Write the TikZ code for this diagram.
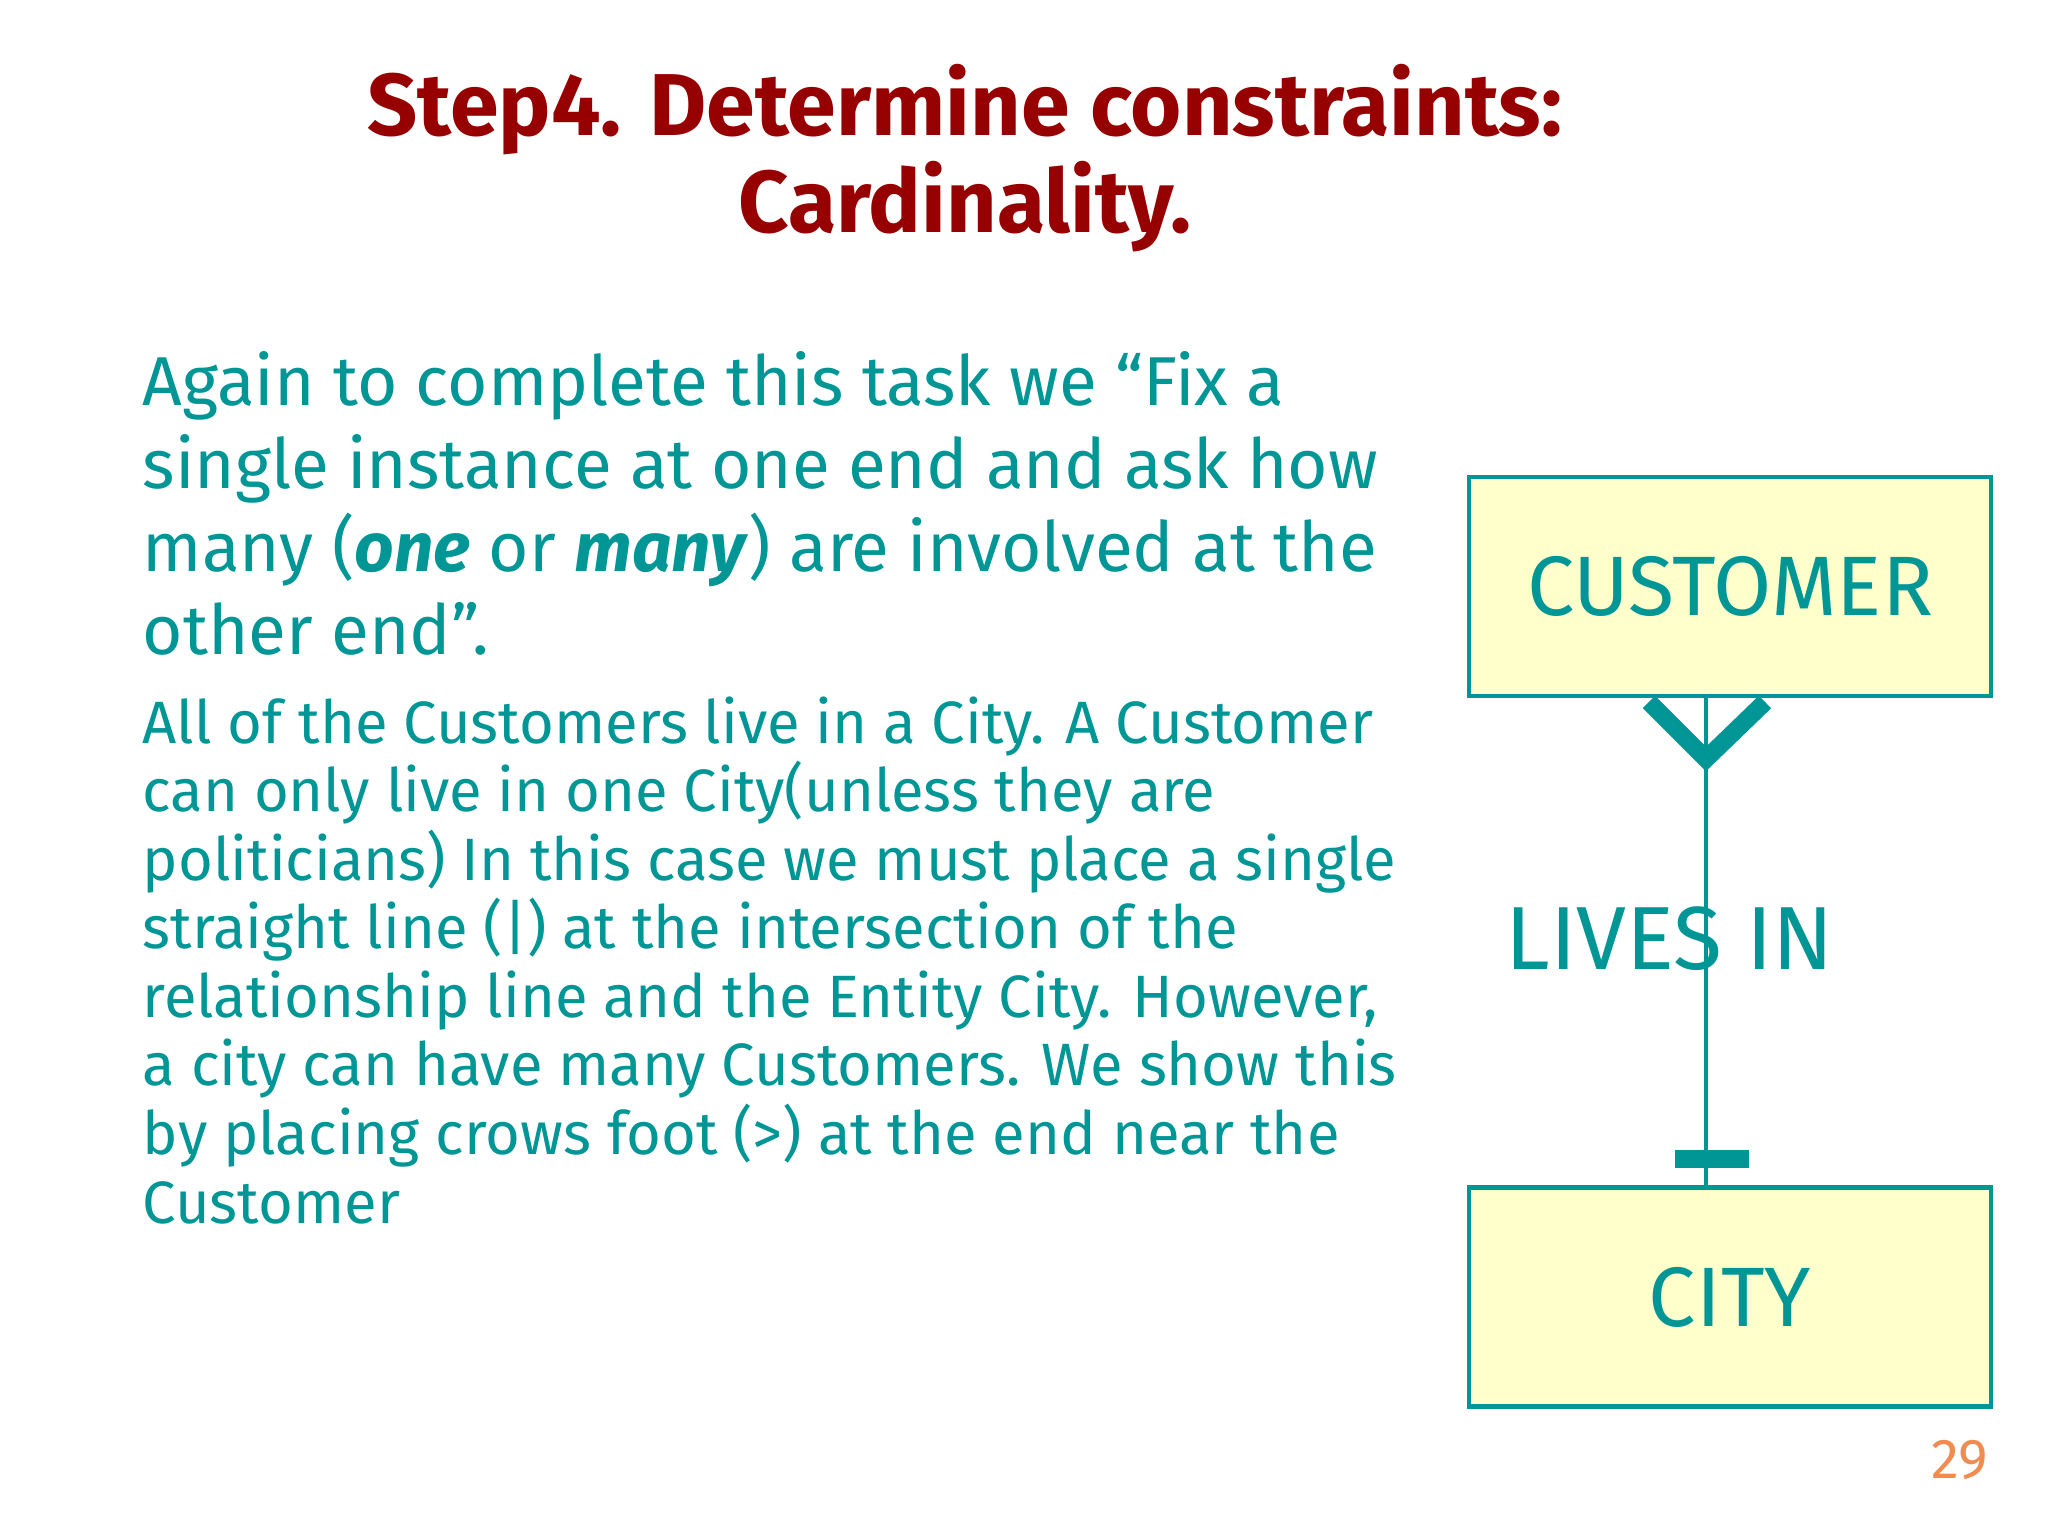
\documentclass[tikz,border=0pt]{standalone}
\usepackage{fontspec}
\setmainfont{Fira Sans}
\definecolor{teal1}{RGB}{0,150,150}
\definecolor{dred}{RGB}{150,0,0}
\definecolor{lyel}{RGB}{255,255,204}
\definecolor{pgorange}{RGB}{240,140,80}
\begin{document}
\begin{tikzpicture}[x=1cm,y=1cm,
  ent/.style={draw=teal1,line width=1.2pt,fill=lyel,minimum width=5.22cm,minimum height=2.19cm,text=teal1,font=\fontsize{24}{28}\selectfont},
  body/.style={text=teal1,anchor=north west,align=left,inner sep=0pt}]
\useasboundingbox[fill=white] (0,0) rectangle (20.48,15.36);
\node[text=dred,font=\bfseries\fontsize{25}{27.6}\selectfont,align=center] (title) at (9.65,13.78) {Step4. Determine constraints:\\Cardinality.};
\node[body,font=\fontsize{19.7}{23.6}\selectfont] (p1) at (1.42,11.85) {Again to complete this task we “Fix a\\single instance at one end and ask how\\many (\textbf{\textit{one}} or \textbf{\textit{many}}) are involved at the\\other end”.};
\node[body,font=\fontsize{17}{19.5}\selectfont] (p2) at (1.42,8.40) {All of the Customers live in a City. A Customer\\can only live in one City(unless they are\\politicians) In this case we must place a single\\straight line (|) at the intersection of the\\relationship line and the Entity City. However,\\a city can have many Customers. We show this\\by placing crows foot (>) at the end near the\\Customer};
\node[ent] (cust) at (17.30,9.495) {CUSTOMER};
\node[ent] (city) at (17.30,2.39) {CITY};
\draw[teal1,line width=1.2pt] (cust.south -| 17.06,0) -- (city.north -| 17.06,0);
\coordinate (cfl) at (16.49,8.34);
\coordinate (cfm) at (17.06,7.77);
\coordinate (cfr) at (17.65,8.34);
\draw[teal1,line width=5pt] (cfl) -- (cfm) -- (cfr);
\coordinate (bl) at (16.75,3.77);
\coordinate (br) at (17.49,3.77);
\draw[teal1,line width=5pt] (bl) -- (br);
\node[text=teal1,font=\fontsize{25.5}{30}\selectfont] (lives) at (16.70,5.97) {LIVES IN};
\node[text=pgorange,font=\fontsize{16}{20}\selectfont] (pg) at (19.60,0.76) {29};
\end{tikzpicture}
\end{document}
